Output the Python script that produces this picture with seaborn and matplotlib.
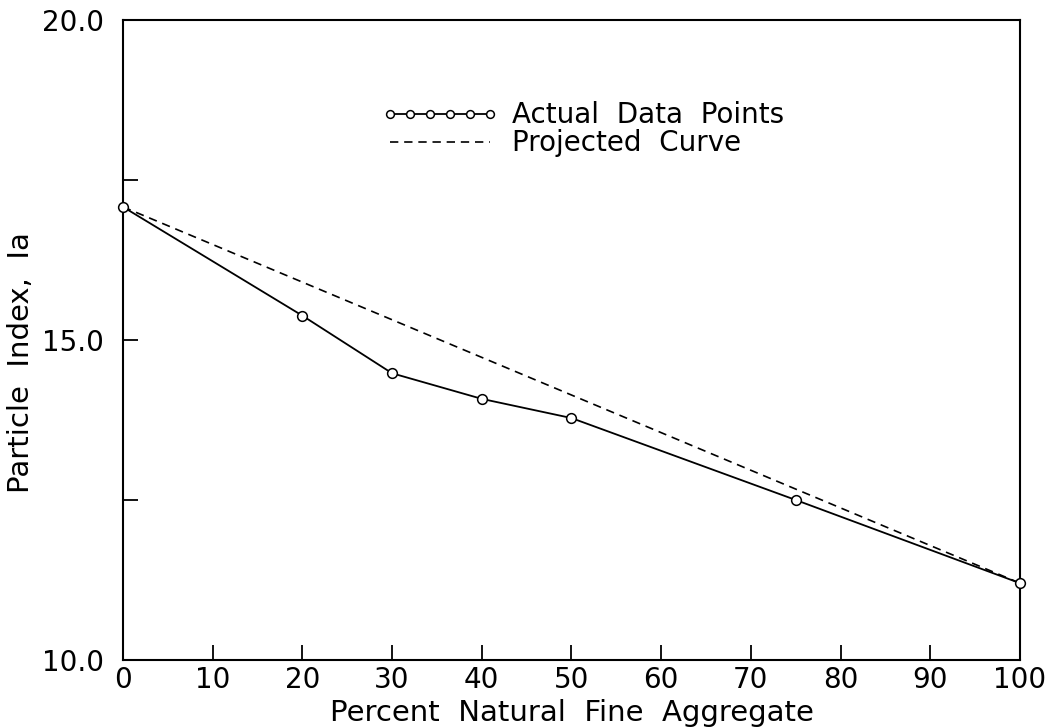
import matplotlib
matplotlib.use('Agg')
import matplotlib.pyplot as plt
import seaborn as sns
import numpy as np

# values
pct_natural = [0, 20, 30, 40, 50, 75, 100]
particle_index = [17.08, 15.38, 14.48, 14.08, 13.78, 12.50, 11.20]

proj_x = [0, 100]
proj_y = [17.08, 11.20]

x_ticks = [0, 10, 20, 30, 40, 50, 60, 70, 80, 90, 100]
y_ticks = [10.0, 12.5, 15.0, 17.5, 20.0]
y_labels = ['10.0', '', '15.0', '', '20.0']

sns.set_style('ticks')
plt.rcParams['font.family'] = ['DejaVu Sans']
plt.rcParams['text.color'] = 'black'
plt.rcParams['axes.labelcolor'] = 'black'

fig = plt.figure(figsize=(10.51, 7.27), dpi=100)
ax = fig.add_axes([0.117, 0.0922, 0.8535, 0.8803])

sns.lineplot(x=pct_natural, y=particle_index, ax=ax, color='black', linewidth=1.3,
             marker='o', markersize=7, markerfacecolor='white',
             markeredgecolor='black', markeredgewidth=1.1,
             label='Actual  Data  Points', zorder=3, clip_on=False)
sns.lineplot(x=proj_x, y=proj_y, ax=ax, color='black', linewidth=1.2,
             linestyle=(0, (5, 3.5)), label='Projected  Curve', zorder=2)

ax.set_xlim(0, 100)
ax.set_ylim(10, 20)
ax.set_xticks(x_ticks)
ax.set_xticklabels([str(t) for t in x_ticks])
ax.set_yticks(y_ticks)
ax.set_yticklabels(y_labels)

ax.tick_params(direction='in', length=11, width=1.3, labelsize=20, colors='black')
ax.tick_params(axis='x', pad=4)
ax.tick_params(axis='y', pad=14)
for s in ax.spines.values():
    s.set_linewidth(1.5)
    s.set_color('black')
    s.set_visible(True)

ax.set_xlabel('Percent  Natural  Fine  Aggregate', fontsize=21, labelpad=4)
ax.set_ylabel('Particle  Index,  Ia', fontsize=21)
ax.yaxis.set_label_coords(-0.098, 0.465)

leg = ax.legend(loc='upper left', bbox_to_anchor=(0.26, 0.912), frameon=False,
                fontsize=20, handlelength=4.2, handletextpad=0.5,
                labelspacing=0.0, numpoints=6, markerscale=0.8)

fig.savefig('out.png', dpi=100, facecolor='white')
